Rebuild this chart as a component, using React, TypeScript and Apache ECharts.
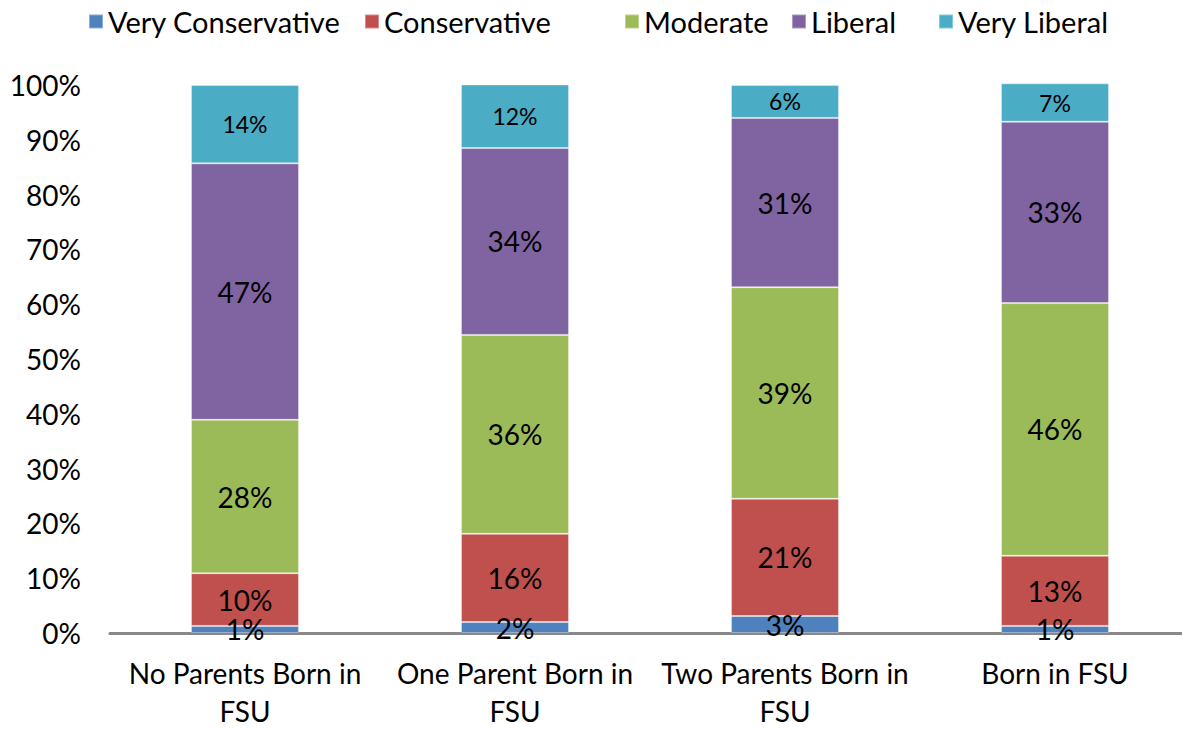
import React, { useEffect, useRef } from "react";
import * as echarts from "echarts";

const categories = ["No Parents Born in\nFSU", "One Parent Born in\nFSU", "Two Parents Born in\nFSU", "Born in FSU"];
const seriesNames = ["Very Conservative", "Conservative", "Moderate", "Liberal", "Very Liberal"];
const veryConservative = [1.3, 2.0, 3.1, 1.3];
const conservative = [9.6, 16.1, 21.4, 12.8];
const moderate = [28.0, 36.3, 38.6, 46.1];
const liberal = [46.8, 34.1, 30.9, 33.1];
const veryLiberal = [14.3, 11.6, 6.0, 7.0];
const yTicks = [0, 10, 20, 30, 40, 50, 60, 70, 80, 90, 100];
const colors = ["#4F81BD", "#C0504D", "#9BBB59", "#8064A2", "#4BACC6"];

// layout: left edge of each legend entry
const legendLeft = [88, 364, 624, 791, 938];

const FONT = "Lato, 'Open Sans', sans-serif";

export default function App() {
  const ref = useRef<HTMLDivElement>(null);
  useEffect(() => {
    document.body.style.margin = "0";
    const chart = echarts.init(ref.current!, null, { renderer: "svg", width: 1182, height: 730 });
    const all = [veryConservative, conservative, moderate, liberal, veryLiberal];
    chart.setOption({
      animation: false,
      textStyle: { fontFamily: FONT },
      legend: seriesNames.map((n, i) => ({
        top: 7,
        left: legendLeft[i],
        padding: 0,
        itemWidth: 14,
        itemHeight: 14,
        icon: "rect",
        textStyle: { fontSize: 29, color: "#000", fontFamily: FONT },
        data: [n],
      })),
      grid: { left: 110, right: -8, top: 85, bottom: 97, containLabel: false, outerBoundsMode: "none" },
      xAxis: {
        type: "category",
        data: categories,
        axisLine: { show: true, lineStyle: { color: "#888", width: 3 } },
        axisTick: { show: false },
        axisLabel: { fontSize: 28, color: "#000", margin: 21, lineHeight: 38, fontFamily: FONT, interval: 0 },
      },
      yAxis: {
        type: "value",
        min: 0,
        max: 100,
        interval: 10,
        splitLine: { show: false },
        axisLine: { show: false },
        axisTick: { show: false },
        axisLabel: {
          fontSize: 28,
          color: "#000",
          margin: 29,
          fontFamily: FONT,
          formatter: (v: number) => (yTicks.includes(v) ? v + "%" : ""),
        },
      },
      series: all.map((d, i) => ({
        name: seriesNames[i],
        type: "bar",
        stack: "total",
        barWidth: 108,
        clip: false,
        data: d,
        itemStyle: { color: colors[i], borderColor: "rgba(255,255,255,0.35)", borderWidth: 1 },
        label: {
          show: true,
          position: "inside",
          color: "#000",
          fontSize: i === 4 ? 23 : 28,
          fontFamily: FONT,
          formatter: (p: any) => Math.round(p.value) + "%",
        },
      })),
    });
    return () => chart.dispose();
  }, []);
  return <div ref={ref} style={{ width: 1182, height: 730 }} />;
}
